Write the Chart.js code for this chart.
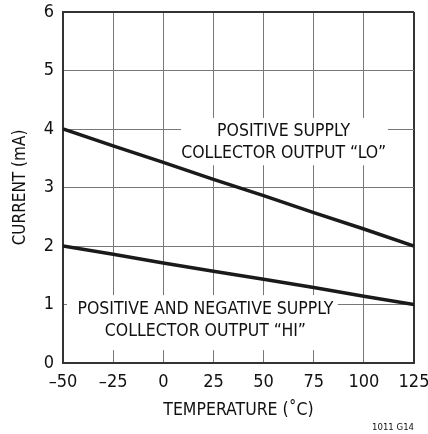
<!DOCTYPE html>
<html>
<head>
<meta charset="utf-8">
<script src="https://cdn.jsdelivr.net/npm/chart.js@4"></script>
<style>
html,body{margin:0;padding:0;background:#fff;}
#wrap{width:428px;height:434px;position:relative;}
</style>
</head>
<body>
<div id="wrap"><canvas id="c" width="428" height="434"></canvas></div>
<script>
const temperatures = [-50, -25, 0, 25, 50, 75, 100, 125];
const currentLo = [4.0, 3.71, 3.43, 3.14, 2.86, 2.57, 2.29, 2.0];
const currentHi = [2.0, 1.86, 1.71, 1.57, 1.43, 1.29, 1.14, 1.0];
const xTicks = [-50, -25, 0, 25, 50, 75, 100, 125];
const yTicks = [0, 1, 2, 3, 4, 5, 6];
const labelLo = ['POSITIVE SUPPLY', 'COLLECTOR OUTPUT \u201CLO\u201D'];
const labelHi = ['POSITIVE AND NEGATIVE SUPPLY', 'COLLECTOR OUTPUT \u201CHI\u201D'];
const xTitle = 'TEMPERATURE (\u02DAC)';
const yTitle = 'CURRENT (mA)';
const figId = '1011 G14';

const FONT = "'Liberation Sans Narrow', 'DejaVu Sans Condensed', sans-serif";

const annotations = [
  {lines: labelLo, x: 60, y: 3.77, box: {x0: 8.8, x1: 112, y0: 3.38, y1: 4.19}},
  {lines: labelHi, x: 21, y: 0.72, box: {x0: -48, x1: 87, y0: 0.22, y1: 1.16}}
];

const annotPlugin = {
  id: 'annot',
  beforeDatasetsDraw(chart) {
    const {ctx, scales: {x, y}} = chart;
    ctx.save();
    ctx.fillStyle = '#fff';
    annotations.forEach(a => {
      const l = x.getPixelForValue(a.box.x0), r = x.getPixelForValue(a.box.x1);
      const t = y.getPixelForValue(a.box.y1), b = y.getPixelForValue(a.box.y0);
      ctx.fillRect(l, t, r - l, b - t);
    });
    ctx.fillStyle = '#111';
    ctx.font = '17.5px ' + FONT;
    ctx.textAlign = 'center';
    ctx.textBaseline = 'middle';
    annotations.forEach(a => {
      const cx = x.getPixelForValue(a.x), cy = y.getPixelForValue(a.y);
      ctx.fillText(a.lines[0], cx, cy - 11);
      ctx.fillText(a.lines[1], cx, cy + 11);
    });
    ctx.restore();
  },
  afterDraw(chart) {
    const {ctx, chartArea} = chart;
    ctx.save();
    ctx.fillStyle = '#111';
    ctx.font = '9.5px ' + FONT;
    ctx.textAlign = 'right';
    ctx.textBaseline = 'middle';
    ctx.fillText(figId, chartArea.right, 428);
    ctx.restore();
  }
};

new Chart(document.getElementById('c'), {
  type: 'line',
  data: {
    datasets: [
      {data: temperatures.map((t, i) => ({x: t, y: currentLo[i]})), borderColor: '#1a1a1a', borderWidth: 3.5, pointRadius: 0, tension: 0, fill: false},
      {data: temperatures.map((t, i) => ({x: t, y: currentHi[i]})), borderColor: '#1a1a1a', borderWidth: 3.5, pointRadius: 0, tension: 0, fill: false}
    ]
  },
  options: {
    responsive: false,
    animation: false,
    devicePixelRatio: 1,
    layout: {padding: {top: 12, right: 14, bottom: 0, left: 0}},
    plugins: {legend: {display: false}, tooltip: {enabled: false}},
    scales: {
      x: {
        type: 'linear', min: -50, max: 125,
        afterBuildTicks(s) { s.ticks = xTicks.map(v => ({value: v})); },
        afterFit(s) { s.height = 71; s.paddingLeft = 0; s.paddingRight = 0; },
        ticks: {
          color: '#111', padding: 9, maxRotation: 0, autoSkip: false,
          font: {family: FONT, size: 18},
          callback: v => (v < 0 ? '\u2013' + Math.abs(v) : String(v))
        },
        grid: {
          drawTicks: false,
          color: c => (c.tick && c.tick.value === 125 ? '#333' : '#777'),
          lineWidth: c => (c.tick && c.tick.value === 125 ? 2 : 1)
        },
        border: {color: '#333', width: 2},
        title: {display: true, text: xTitle, color: '#111', font: {family: FONT, size: 17.5}, padding: {top: 0, bottom: 13}}
      },
      y: {
        min: 0, max: 6,
        afterBuildTicks(s) { s.ticks = yTicks.map(v => ({value: v})); },
        afterFit(s) { s.width = 63; s.paddingTop = 0; s.paddingBottom = 0; },
        ticks: {color: '#111', padding: 9, font: {family: FONT, size: 18}},
        grid: {
          drawTicks: false,
          color: c => (c.tick && c.tick.value === 6 ? '#333' : '#777'),
          lineWidth: c => (c.tick && c.tick.value === 6 ? 2 : 1)
        },
        border: {color: '#333', width: 2},
        title: {display: true, text: yTitle, color: '#111', font: {family: FONT, size: 17}, padding: {top: 10, bottom: 0}}
      }
    }
  },
  plugins: [annotPlugin]
});
</script>
</body>
</html>
